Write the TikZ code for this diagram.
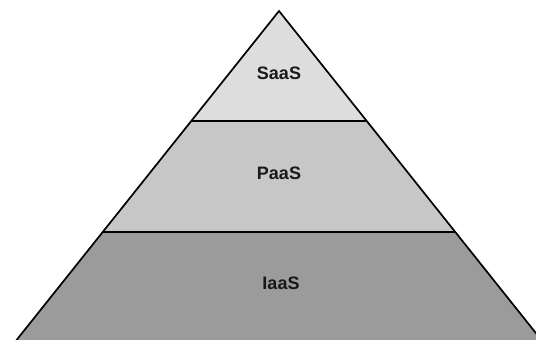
\documentclass[tikz,border=0pt]{standalone}
\usepackage{fontspec}
\setmainfont{Liberation Sans}
\begin{document}
\begin{tikzpicture}[x=1pt,y=1pt,
  edge/.style={draw=black,line width=1.7pt,line join=miter},
  tier/.style={line width=1.7pt},
  lbl/.style={font=\fontsize{18}{20}\selectfont\bfseries,text=black!90,inner sep=0pt}]
\useasboundingbox (0,0) rectangle (536,340);
\clip (0,0) rectangle (536,340);
\definecolor{topc}{RGB}{221,221,221}
\definecolor{midc}{RGB}{199,199,199}
\definecolor{botc}{RGB}{155,155,155}
\coordinate (apex) at (279,329);
\coordinate (l1) at (192,219);
\coordinate (r1) at (366,219);
\coordinate (l2) at (103,108);
\coordinate (r2) at (455,108);
\coordinate (l3) at (15,-2);
\coordinate (r3) at (543,-2);
\fill[topc] (apex) -- (r1) -- (l1) -- cycle;
\fill[midc] (l1) -- (r1) -- (r2) -- (l2) -- cycle;
\fill[botc] (l2) -- (r2) -- (r3) -- (l3) -- cycle;
\draw[tier] (l1) -- (r1);
\draw[tier] (l2) -- (r2);
\draw[edge] (l3) -- (apex) -- (r3);
\node[lbl] (saas) at (279,266.5) {SaaS};
\node[lbl] (paas) at (279,166.5) {PaaS};
\node[lbl] (iaas) at (281,56.5) {IaaS};
\end{tikzpicture}
\end{document}
